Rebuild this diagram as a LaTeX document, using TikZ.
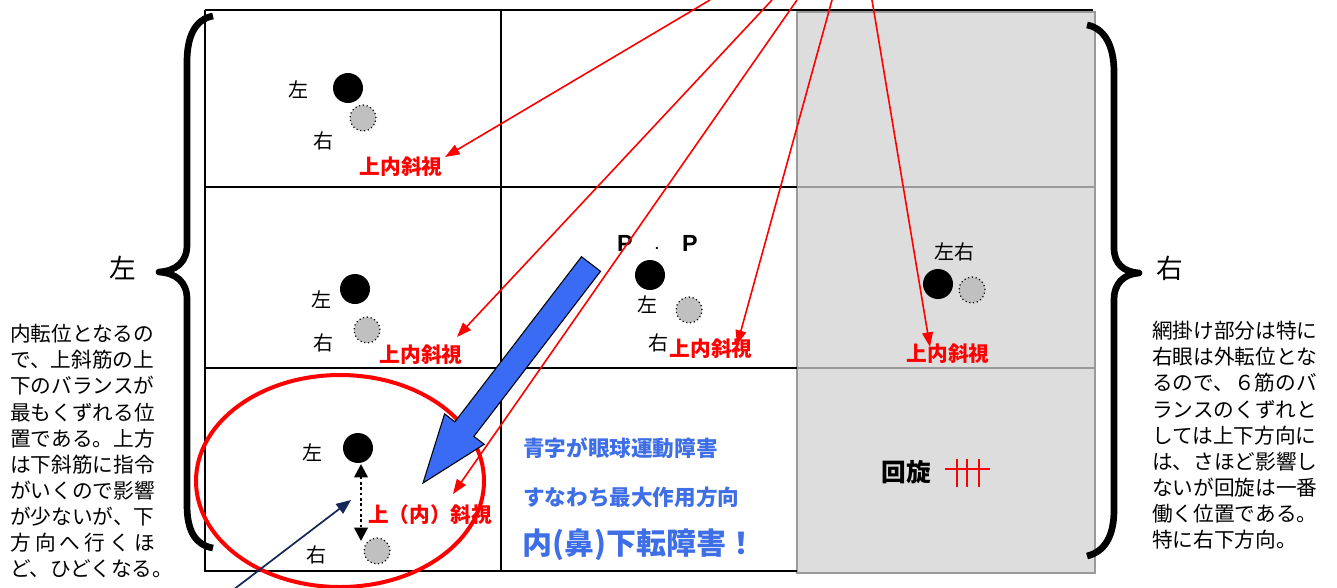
\documentclass[tikz,border=0pt]{standalone}
\usepackage{fontspec}
\setmainfont{Noto Sans CJK JP}
\newfontfamily\arialfont{Liberation Sans}
\usetikzlibrary{arrows.meta}
\definecolor{shade}{HTML}{DDDDDD}
\definecolor{shadeline}{HTML}{9A9A9A}
\definecolor{eyegray}{HTML}{C0C0C0}
\definecolor{bluetext}{HTML}{3F6FE6}
\definecolor{bluefill}{HTML}{3A6BF5}
\definecolor{navyline}{HTML}{14285A}
\tikzset{
  gridline/.style={black, line width=1.1pt},
  lefteye/.style={circle, fill=black, minimum size=22.5pt, inner sep=0pt},
  righteye/.style={circle, fill=eyegray, draw=black, dotted, line width=0.9pt, minimum size=19.5pt, inner sep=0pt},
  eyelabel/.style={font=\fontsize{15}{15}\selectfont, inner sep=0pt},
  redlabel/.style={font=\bfseries\fontsize{15.5}{15.5}\selectfont, text=red, inner sep=0pt},
  redarrow/.style={red, line width=1.2pt, -{Triangle[length=11pt,width=8pt]}},
  bracestyle/.style={black, line width=5pt, line join=round},
  sidetext/.style={font=\fontsize{15.5}{19.6}\selectfont, align=left, inner sep=0pt, anchor=north west},
  bluelabel/.style={font=\bfseries\fontsize{16.2}{16.2}\selectfont, text=bluetext, inner sep=0pt, anchor=west}
}
\begin{document}
\begin{tikzpicture}[x=0.75pt,y=-0.75pt]
\useasboundingbox (0,0) rectangle (1337,587);

% shaded column
\filldraw[fill=shade, draw=shadeline, line width=1.6pt] (797,12) rectangle (1095,573);
\draw[shadeline, line width=1.2pt] (797,187) -- (1095,187);
\draw[shadeline, line width=1.2pt] (797,368) -- (1095,368);

% grid
\draw[gridline] (205,10) -- (1093,10);
\draw[gridline] (205,10) -- (205,571) -- (797,571);
\draw[gridline] (501,10) -- (501,571);
\draw[gridline] (205,187) -- (797,187);
\draw[gridline] (205,368) -- (797,368);

% braces
\draw[bracestyle] (213,16) .. controls (196,19) and (187,35) .. (187,62) -- (187,245) .. controls (187,262) and (176,271) .. (159,272) .. controls (176,273) and (187,282) .. (187,299) -- (187,505) .. controls (187,532) and (196,545) .. (213,548);
\draw[bracestyle] (1087,25) .. controls (1104,28) and (1114,45) .. (1114,72) -- (1114,248) .. controls (1114,264) and (1124,272) .. (1139,273) .. controls (1124,274) and (1114,283) .. (1114,300) -- (1114,510) .. controls (1114,537) and (1104,552) .. (1087,556);
\node[font=\fontsize{20}{20}\selectfont, inner sep=0pt] (bigL) at (123,268) {左};
\node[font=\fontsize{20}{20}\selectfont, inner sep=0pt] (bigR) at (1170,268) {右};

% side texts
\node[sidetext] (lefttext) at (10,324) {内転位となるの\\で、上斜筋の上\\下のバランスが\\最もくずれる位\\置である。上方\\は下斜筋に指令\\がいくので影響\\が少ないが、下\\\makebox[7em][s]{方\hfill 向\hfill へ\hfill 行\hfill く\hfill ほ}\\ど、ひどくなる。};
\node[sidetext] (righttext) at (1152,321) {網掛け部分は特に\\右眼は外転位とな\\るので、６筋のバ\\ランスのくずれと\\しては上下方向に\\は、さほど影響し\\ないが回旋は一番\\働く位置である。\\特に右下方向。};

% top-left cell
\node[lefteye] (e1l) at (348,88) {};
\node[righteye] (e1r) at (363,118) {};
\node[eyelabel] (t1l) at (298,90) {左};
\node[eyelabel] (t1r) at (323,141) {右};
\node[redlabel] (r1) at (401,167) {上内斜視};

% middle-left cell
\node[lefteye] (e2l) at (355,289) {};
\node[righteye] (e2r) at (367,330) {};
\node[eyelabel] (t2l) at (321,300) {左};
\node[eyelabel] (t2r) at (323,343) {右};
\node[redlabel] (r2) at (421,355) {上内斜視};

% middle-middle cell
\node[font=\arialfont\bfseries\fontsize{17.5}{17.5}\selectfont, inner sep=0pt] (p1) at (625,243) {P};
\node[font=\arialfont\bfseries\fontsize{10}{10}\selectfont, inner sep=0pt] (pdot) at (657,248) {.};
\node[font=\arialfont\bfseries\fontsize{17.5}{17.5}\selectfont, inner sep=0pt] (p2) at (690,243) {P};
\node[lefteye] (e3l) at (650,275) {};
\node[righteye] (e3r) at (689,310) {};
\node[eyelabel] (t3l) at (647,305) {左};
\node[eyelabel] (t3r) at (658,343) {右};
\node[redlabel] (r3) at (711,349) {上内斜視};

% middle-right cell
\node[eyelabel] (t4) at (954,252) {左右};
\node[lefteye] (e4l) at (938,284) {};
\node[righteye] (e4r) at (972,290) {};
\node[redlabel] (r4) at (948,354) {上内斜視};

% bottom-left cell
\draw[red, line width=3pt] (340,481) ellipse [x radius=144, y radius=106];
\node[lefteye] (e5l) at (358,448) {};
\node[righteye] (e5r) at (377,551) {};
\node[eyelabel] (t5l) at (312,453) {左};
\node[eyelabel] (t5r) at (316,555) {右};
\node[redlabel] (r5) at (430,515) {上（内）斜視};
\coordinate (dtop) at (361,464);
\coordinate (dbot) at (361,541);
\draw[black, dotted, line width=2pt, {Triangle[length=10pt,width=10pt]}-{Triangle[length=10pt,width=10pt]}] (dtop) -- (dbot);

% bottom-middle cell
\node[bluelabel] (b1) at (523,448) {青字が眼球運動障害};
\node[bluelabel] (b2) at (523,497) {すなわち最大作用方向};
\node[bluelabel, font=\bfseries\fontsize{22.5}{22.5}\selectfont] (b3) at (522,545) {内(鼻)下転障害！};

% bottom-right cell
\node[font=\bfseries\fontsize{18.5}{18.5}\selectfont, inner sep=0pt] (rot) at (906,472) {回旋};
\coordinate (hA) at (945,469);
\coordinate (hB) at (990,469);
\draw[red, line width=1.1pt] (hA) -- (hB);
\draw[red, line width=1.1pt] (957,459) -- (957,487);
\draw[red, line width=1.1pt] (967,459) -- (967,487);
\draw[red, line width=1.1pt] (979,459) -- (979,487);

% blue block arrow
\filldraw[fill=bluefill, draw=black, line width=0.8pt] (600.5,271.3) -- (473.9,436.4) -- (484.2,444.3) -- (423,483) -- (444.6,413.9) -- (454.9,421.8) -- (581.5,256.7) -- cycle;

% navy arrow
\coordinate (nstart) at (233,590);
\coordinate (ntip) at (351,500);
\draw[navyline, line width=1.3pt, -{Triangle[length=11pt,width=9pt]}] (nstart) -- (ntip);

% red leader arrows from above
\coordinate (s1) at (710,0);
\coordinate (s2) at (772,0);
\coordinate (s3) at (797,0);
\coordinate (s4) at (832,0);
\coordinate (s5) at (872,0);
\coordinate (a1) at (445,157);
\coordinate (a2) at (457,337);
\coordinate (a3) at (453,494);
\coordinate (a4) at (737,345);
\coordinate (a5) at (930,347);
\draw[redarrow] (s1) -- (a1);
\draw[redarrow] (s2) -- (a2);
\draw[redarrow] (s3) -- (a3);
\draw[redarrow] (s4) -- (a4);
\draw[redarrow] (s5) -- (a5);
\end{tikzpicture}
\end{document}
